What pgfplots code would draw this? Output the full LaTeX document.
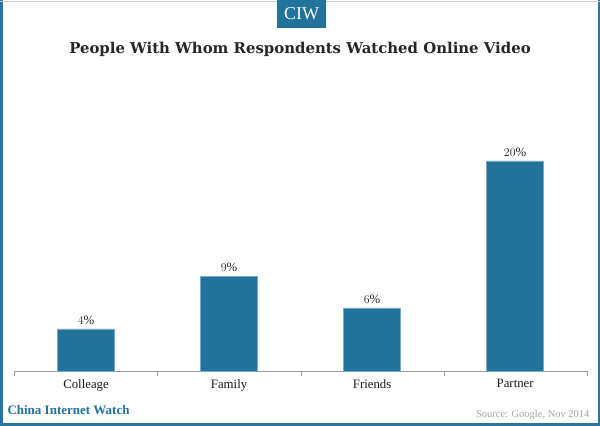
\documentclass[border=0pt]{standalone}
\usepackage{pgfplots}
\pgfplotsset{compat=1.18}
\usepackage{fontspec}
\setmainfont{Liberation Serif}
\newfontfamily\titlefont{DejaVu Serif}
\definecolor{ciwblue}{RGB}{33,115,155}
\definecolor{framblue}{RGB}{40,118,160}
\begin{document}
\begin{tikzpicture}
\useasboundingbox (0,0) rectangle (600bp,426bp);
\fill[white] (0,0) rectangle (600bp,426bp);
% frame
\draw[framblue, line width=2.5bp] (1.25bp,426bp) -- (1.25bp,1.25bp) -- (598.75bp,1.25bp) -- (598.75bp,426bp);
\draw[gray!40, line width=1.2bp] (0,424.5bp) -- (600bp,424.5bp);
% CIW box
\fill[ciwblue] (277bp,398bp) rectangle (326bp,426bp);
\node[white, font=\fontsize{18bp}{20bp}\selectfont] at (301.5bp,412bp) {CIW};
% title
\node[font=\titlefont\fontsize{14.9bp}{17bp}\selectfont\bfseries, text=black!85] at (300bp,377bp) {People With Whom Respondents Watched Online Video};
% footer
\node[anchor=west, text=ciwblue, font=\fontsize{13bp}{15bp}\selectfont\bfseries] at (4bp,16bp) {China Internet Watch};
\node[anchor=east, text=black!35, font=\fontsize{10.5bp}{12bp}\selectfont] at (593bp,11bp) {Source: Google, Nov 2014};
\begin{axis}[
  at={(14.5bp,55bp)}, anchor=south west,
  scale only axis, width=572.2bp, height=210bp,
  xmin=-0.5, xmax=3.5, ymin=0, ymax=20,
  axis x line=bottom, axis y line=none,
  axis line style={draw=black!40, -},
  xtick={0,1,2,3},
  xticklabels={Colleage,Family,Friends,Partner},
  minor xtick={-0.5,0.5,1.5,2.5,3.5},
  major tick length=0pt,
  minor tick length=5bp,
  tick align=outside,
  minor tick style={draw=black!40},
  x tick label style={font=\fontsize{12.8bp}{14bp}\selectfont, text=black!90, yshift=-5bp},
  ytick=\empty,
  clip=false,
  ybar, bar width=57bp,
  nodes near coords={\pgfmathprintnumber{\pgfplotspointmeta}\%},
  every node near coord/.append style={font=\fontsize{12.8bp}{14bp}\selectfont, text=black!85, yshift=1bp},
]
\addplot[fill=ciwblue, draw=ciwblue!60!white, line width=0.6bp] coordinates {(0,4) (1,9) (2,6) (3,20)};
\end{axis}
\end{tikzpicture}
\end{document}
